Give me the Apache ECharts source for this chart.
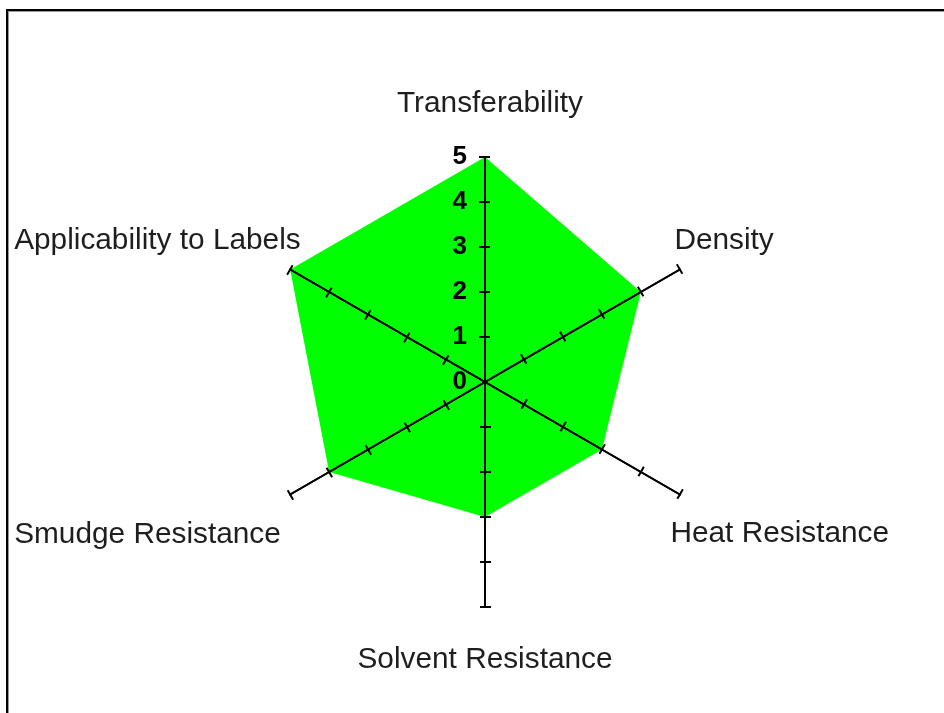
<!DOCTYPE html>
<html>
<head>
<meta charset="utf-8">
<script src="https://cdn.jsdelivr.net/npm/echarts@6/dist/echarts.min.js"></script>
<style>
html,body{margin:0;padding:0;background:#fff;}
#chart{width:944px;height:713px;position:absolute;left:0;top:0;}
#frame{position:absolute;left:6px;top:9px;width:940px;height:710px;border-top:2px solid #000;border-left:2px solid #000;pointer-events:none;}
#frame2{position:absolute;left:8px;top:11px;width:940px;height:710px;border-top:1px solid #999;border-left:1px solid #999;pointer-events:none;}
</style>
</head>
<body>
<div id="chart"></div>
<div id="frame"></div>
<div id="frame2"></div>
<script>
// indicators in ECharts order (counter-clockwise from the top)
var categories = ['Transferability', 'Applicability to Labels', 'Smudge Resistance', 'Solvent Resistance', 'Heat Resistance', 'Density'];
var values = [5, 5, 4, 3, 3, 4];
var axisMax = 5;
var tickLabels = ['0', '1', '2', '3', '4', '5'];
var tickValues = [1, 2, 3, 4, 5];

// name placement per indicator: gap along axis, horizontal padding [left, right]
var nameGaps = [53, 58, 81, 53, 79, 58];
var nameHPad = [[10, 0], [0, 165], [0, 145], [0, 0], [63, 0], [0, 12]];

function makeIndicators(withLabels) {
  return categories.map(function (c, i) {
    return {
      name: c,
      max: axisMax,
      min: 0,
      nameGap: nameGaps[i],
      axisLabel: { show: withLabels && i === 0 },
      nameTextStyle: {
        align: 'center',
        verticalAlign: 'middle',
        padding: [0, nameHPad[i][1], 0, nameHPad[i][0]]
      }
    };
  });
}

var common = {
  center: [485, 382],
  radius: 225,
  startAngle: 90,
  splitNumber: 5,
  shape: 'polygon',
  splitLine: { show: false },
  splitArea: { show: false },
  axisLine: { show: true, lineStyle: { color: '#000', width: 2 } }
};

var chart = echarts.init(document.getElementById('chart'), null, { renderer: 'canvas' });
chart.setOption({
  animation: false,
  radar: [
    Object.assign({}, common, {
      indicator: makeIndicators(true),
      axisName: { show: true, color: '#1e1e1e', fontSize: 29.8, fontFamily: 'Liberation Sans, Arial, sans-serif' },
      axisTick: { show: true, inside: false, length: 6, customValues: tickValues, lineStyle: { color: '#000', width: 2 } },
      axisLabel: {
        show: true, color: '#000', fontSize: 26, fontWeight: 'bold', margin: 18,
        fontFamily: 'Liberation Sans, Arial, sans-serif',
        formatter: function (v) { return tickLabels[v] != null ? tickLabels[v] : ''; }
      },
      z: 3
    }),
    Object.assign({}, common, {
      indicator: makeIndicators(false),
      axisName: { show: false },
      axisTick: { show: true, inside: false, length: -5, customValues: tickValues, lineStyle: { color: '#000', width: 2 } },
      axisLabel: { show: false },
      z: 3
    })
  ],
  series: [{
    type: 'radar',
    radarIndex: 0,
    symbol: 'none',
    z: 1,
    lineStyle: { width: 0, color: '#00ff00' },
    areaStyle: { color: '#00ff00', opacity: 1 },
    itemStyle: { color: '#00ff00' },
    data: [{ value: values, name: 'Rating' }]
  }]
});
</script>
</body>
</html>
